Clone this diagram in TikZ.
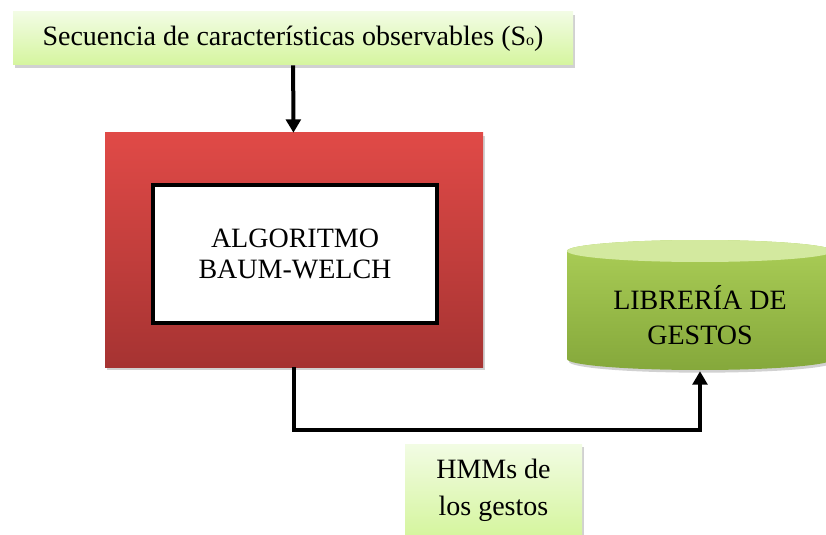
\documentclass[tikz,border=0pt]{standalone}
\usepackage{fontspec}
\setmainfont{Liberation Serif}
\usetikzlibrary{shadows,arrows.meta}
\definecolor{limetop}{HTML}{F2FCE4}
\definecolor{limebot}{HTML}{D5F59E}
\definecolor{redtop}{HTML}{E04A47}
\definecolor{redbot}{HTML}{A63332}
\definecolor{cyltop}{HTML}{ABCE57}
\definecolor{cylbot}{HTML}{85A83B}
\definecolor{cylend}{HTML}{D3E99F}
\tikzset{
    softshadow/.style={drop shadow={shadow xshift=1.5pt, shadow yshift=-2pt, opacity=0.3, fill=black!60}},
    notebox/.style={top color=limetop, bottom color=limebot, softshadow, align=center, inner sep=0pt},
    conn/.style={line width=3pt, -{Triangle[length=10pt,width=11pt]}}
}
\begin{document}
\begin{tikzpicture}[x=0.75pt, y=-0.75pt, font=\fontsize{21}{23}\selectfont]
    \clip (0,0) rectangle (826,535);
    % Input sequence
    \node[notebox, minimum width=420pt, minimum height=39.75pt] (secuencia) at (293,38.5)
        {Secuencia de características observables (S{\fontsize{12}{12}\selectfont o})};
    % Training block
    \node[top color=redtop, bottom color=redbot, softshadow, minimum width=283.5pt, minimum height=175.5pt] (red) at (294,250) {};
    \node[draw, line width=3pt, fill=white, align=center, minimum width=213pt, minimum height=103.5pt] (baum) at (295,254)
        {ALGORITMO\\BAUM-WELCH};
    % Gesture library (cylinder)
    \shade[top color=cyltop, bottom color=cylbot, softshadow]
        (567,251) -- (567,359) arc[start angle=180, end angle=360, x radius=99.75pt, y radius=8.25pt]
        -- (833,251) arc[start angle=0, end angle=180, x radius=99.75pt, y radius=8.25pt] -- cycle;
    \fill[cylend] (700,251) ellipse[x radius=99.75pt, y radius=8.25pt];
    \node[align=center, minimum width=199.5pt, minimum height=84pt, font=\fontsize{21}{26}\selectfont] (libreria) at (700,315)
        {LIBRERÍA DE\\GESTOS};
    % Output models
    \node[notebox, minimum width=132.75pt, minimum height=69pt, font=\fontsize{21}{28}\selectfont] (hmms) at (493.5,490)
        {HMMs de\\los gestos};
    % Connectors
    \draw[conn] (secuencia) -- (red);
    \draw[conn] (red.south) -- ++(0,63) -| (libreria.south);
\end{tikzpicture}
\end{document}
